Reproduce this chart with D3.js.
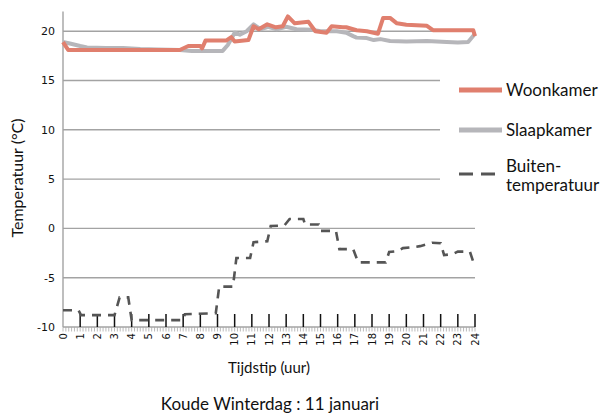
<!DOCTYPE html>
<html><head><meta charset="utf-8">
<script src="https://cdn.jsdelivr.net/npm/d3@7"></script>
<style>body{margin:0;background:#fff}svg{display:block}</style>
</head><body>
<svg id="c" width="606" height="417"></svg>
<script>
// ---- data ----
const hourTicks = d3.range(0, 25);
const yTicks = [-10, -5, 0, 5, 10, 15, 20];
const seriesNames = ["Woonkamer", "Slaapkamer", "Buiten-temperatuur"];

const woonHours = [0, 0.3, 1, 2, 3, 4, 5, 6, 6.8, 7.3, 8.0, 8.1, 8.3, 9.0, 9.5, 9.8, 10.0, 10.8, 11.1, 11.4, 11.9, 12.4, 12.8, 13.1, 13.5, 14.3, 14.7, 15.35, 15.65, 16.3, 16.5, 17.1, 17.7, 18.35, 18.65, 19.05, 19.45, 20.0, 21.2, 21.55, 22.5, 23.3, 23.9, 24.0];
const woonVals  = [18.9, 18.1, 18.1, 18.1, 18.1, 18.1, 18.1, 18.1, 18.1, 18.5, 18.5, 18.25, 19.05, 19.05, 19.05, 19.4, 18.95, 19.1, 20.5, 20.2, 20.7, 20.4, 20.5, 21.5, 20.8, 20.95, 20.0, 19.85, 20.5, 20.4, 20.4, 20.1, 20.0, 19.75, 21.35, 21.35, 20.8, 20.65, 20.55, 20.1, 20.1, 20.1, 20.1, 19.5];

const slaapHours = [0, 0.4, 1.0, 1.4, 2.5, 3.5, 4.5, 5.5, 6.8, 7.5, 8.5, 9.3, 9.6, 10.0, 10.3, 10.7, 11.1, 11.5, 11.95, 12.45, 13.0, 13.6, 14.5, 15.0, 15.95, 16.5, 16.9, 17.1, 17.7, 18.1, 18.5, 19.05, 20.0, 21.2, 22.35, 23.0, 23.6, 24.0];
const slaapVals  = [18.9, 18.75, 18.5, 18.35, 18.3, 18.3, 18.2, 18.15, 18.1, 18.0, 18.0, 18.0, 18.6, 19.85, 19.65, 20.0, 20.7, 20.2, 20.45, 20.2, 20.45, 20.2, 20.15, 20.0, 20.0, 19.85, 19.5, 19.35, 19.3, 19.1, 19.2, 19.0, 18.95, 19.0, 18.9, 18.85, 18.9, 19.75];

const buitHours = [0, 0.9, 1.05, 3.0, 3.3, 3.8, 4.0, 7.0, 7.1, 8.9, 9.1, 9.9, 10.1, 10.9, 11.1, 11.9, 12.1, 12.9, 13.2, 14.0, 14.1, 14.9, 15.0, 15.9, 16.1, 16.9, 17.2, 18.8, 19.0, 19.5, 19.8, 20.4, 20.8, 21.5, 22.0, 22.2, 22.7, 23.0, 23.7, 24.0];
const buitVals  = [-8.3, -8.3, -8.8, -8.8, -7.0, -7.0, -9.3, -9.3, -8.7, -8.6, -5.9, -5.9, -3.0, -3.0, -1.4, -1.3, 0.25, 0.3, 0.95, 0.95, 0.4, 0.4, -0.25, -0.25, -2.1, -2.1, -3.45, -3.45, -2.4, -2.3, -2.0, -1.9, -1.8, -1.45, -1.5, -2.7, -2.6, -2.35, -2.35, -3.9];

const titleText = "Koude Winterdag : 11 januari";
const xTitle = "Tijdstip (uur)";
const yTitle = "Temperatuur (°C)";

// ---- layout ----
const svg = d3.select("#c");
const x = d3.scaleLinear().domain([0, 24]).range([63, 475]);
const y = d3.scaleLinear().domain([-10, 22]).range([327, 11.5]);
const gridCol = "#a3a3a3";
const salmon = "#e07f6e", grey = "#b6b6ba", dark = "#555555";
const humanist = "Lato, 'Noto Sans', sans-serif";

// gridlines
svg.append("g").selectAll("line").data(yTicks).join("line")
  .attr("x1", x(0)).attr("x2", x(24))
  .attr("y1", d => y(d)).attr("y2", d => y(d))
  .attr("stroke", gridCol).attr("stroke-width", 1.4);

// y axis line
svg.append("line").attr("x1", x(0)).attr("x2", x(0)).attr("y1", y(22)).attr("y2", y(-10))
  .attr("stroke", gridCol).attr("stroke-width", 1.4);

// y tick labels
svg.append("g").selectAll("text").data(yTicks).join("text")
  .attr("x", 55).attr("y", d => y(d)).attr("dy", "0.35em")
  .attr("text-anchor", "end").attr("font-family", "'DejaVu Sans', sans-serif")
  .attr("font-size", 11).attr("fill", "#111").text(d => d);

// minor ticks every 10 minutes
svg.append("g").selectAll("line").data(d3.range(0, 24.01, 1/6)).join("line")
  .attr("x1", d => x(d)).attr("x2", d => x(d))
  .attr("y1", y(-10)).attr("y2", y(-10) + 4.5)
  .attr("stroke", "#aaa").attr("stroke-width", 0.8);

// major hour ticks
svg.append("g").selectAll("line").data(hourTicks.filter(d => d > 0)).join("line")
  .attr("x1", d => x(d)).attr("x2", d => x(d))
  .attr("y1", y(-10)).attr("y2", y(-10) - 13)
  .attr("stroke", "#111").attr("stroke-width", 1.5);

// x tick labels rotated
svg.append("g").selectAll("text").data(hourTicks).join("text")
  .attr("transform", d => `translate(${x(d) + 3.5},${333}) rotate(-90)`)
  .attr("text-anchor", "end").attr("font-family", "'DejaVu Sans', sans-serif")
  .attr("font-size", 10).attr("fill", "#111").text(d => d);

// lines
const mk = (hs, vs) => hs.map((h, i) => [h, vs[i]]);
const line = d3.line().x(d => x(d[0])).y(d => y(d[1]));
svg.append("path").datum(mk(slaapHours, slaapVals)).attr("d", line)
  .attr("fill", "none").attr("stroke", grey).attr("stroke-width", 4).attr("stroke-linejoin", "round");
svg.append("path").datum(mk(woonHours, woonVals)).attr("d", line)
  .attr("fill", "none").attr("stroke", salmon).attr("stroke-width", 4).attr("stroke-linejoin", "round");
svg.append("path").datum(mk(buitHours, buitVals)).attr("d", line)
  .attr("fill", "none").attr("stroke", dark).attr("stroke-width", 2.6).attr("stroke-dasharray", "9,7");

// legend background
svg.append("rect").attr("x", 440).attr("y", 52).attr("width", 166).attr("height", 165).attr("fill", "#fff");
const legY = [90, 130, 174];
const legStyle = [[salmon, 5, null], [grey, 5, null], [dark, 3, "14,8"]];
legY.forEach((ly, i) => {
  const l = svg.append("line").attr("x1", 459).attr("x2", 502).attr("y1", ly).attr("y2", ly)
    .attr("stroke", legStyle[i][0]).attr("stroke-width", legStyle[i][1]);
  if (legStyle[i][2]) l.attr("stroke-dasharray", legStyle[i][2]);
});
const legLabels = [[seriesNames[0], 96], [seriesNames[1], 136], ["Buiten-", 172], ["temperatuur", 191]];
svg.append("g").selectAll("text").data(legLabels).join("text")
  .attr("x", 506).attr("y", d => d[1]).attr("font-family", humanist).attr("font-size", 17)
  .attr("fill", "#111").text(d => d[0]);

// axis titles
svg.append("text").attr("transform", "translate(23,178) rotate(-90)").attr("text-anchor", "middle")
  .attr("font-family", humanist).attr("font-size", 16).attr("fill", "#111").text(yTitle);
svg.append("text").attr("x", 269).attr("y", 373).attr("text-anchor", "middle")
  .attr("font-family", humanist).attr("font-size", 15).attr("fill", "#111").text(xTitle);
svg.append("text").attr("x", 270).attr("y", 410).attr("text-anchor", "middle")
  .attr("font-family", humanist).attr("font-size", 17).attr("fill", "#111").text(titleText);
</script>
</body></html>
